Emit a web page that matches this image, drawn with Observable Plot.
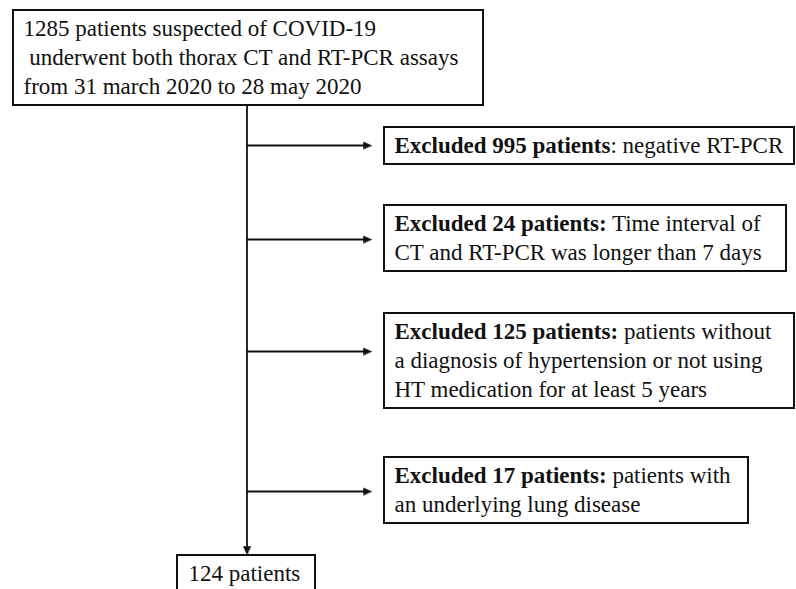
<!DOCTYPE html>
<html>
<head>
<meta charset="utf-8">
<script src="https://cdn.jsdelivr.net/npm/d3@7"></script>
<script src="https://cdn.jsdelivr.net/npm/@observablehq/plot@0.6"></script>
<style>
  html, body { margin: 0; padding: 0; background: #fff; }
  svg text, svg tspan { white-space: pre; }
</style>
</head>
<body>
<div id="chart"></div>
<script>
// ---------- content ----------
const startLines = [
  "1285 patients suspected of COVID-19",
  " underwent both thorax CT and RT-PCR assays",
  "from 31 march 2020 to 28 may 2020"
];
const excludedCounts = [995, 24, 125, 17];
const excludedBold = ["Excluded 995 patients", "Excluded 24 patients:", "Excluded 125 patients:", "Excluded 17 patients:"];
const excludedRest = [
  [": negative RT-PCR"],
  [" Time interval of", "CT and RT-PCR was longer than 7 days"],
  [" patients without", "a diagnosis of hypertension or not using", "HT medication for at least 5 years"],
  [" patients with", "an underlying lung disease"]
];
const finalLines = ["124 patients"];

// ---------- layout (chart units) ----------
const W = 796, H = 589;
const FS = 23, LINE = 29, PADX = 10, PADTOP = 4;
const FONT = "Liberation Serif, Times New Roman, serif";
const startBox = {x1: 13, y1: 10, x2: 483};
const exclBoxes = [
  {x1: 384, y1: 127, x2: 794},
  {x1: 384, y1: 205, x2: 786},
  {x1: 384, y1: 313, x2: 794},
  {x1: 384, y1: 457, x2: 748}
];
const exclArrowY = [145, 239, 351, 491];
const finalBox = {x1: 177, y1: 555, x2: 315};
const spineX = 246.5, arrowTipX = 371, headL = 8, headW = 3.6;

// ---------- derived tables ----------
const boxH = n => n * LINE + 8;
const boxes = [
  {...startBox, y2: startBox.y1 + boxH(startLines.length)},
  ...exclBoxes.map((b, i) => ({...b, y2: b.y1 + boxH(excludedRest[i].length)})),
  {...finalBox, y2: finalBox.y1 + boxH(finalLines.length)}
];

const ctx = document.createElement("canvas").getContext("2d");
ctx.font = `bold ${FS}px "Liberation Serif"`;

const normalText = [], boldText = [];
startLines.forEach((t, i) => normalText.push({x: startBox.x1 + PADX, y: startBox.y1 + PADTOP + LINE * (i + 0.5), text: t}));
finalLines.forEach((t, i) => normalText.push({x: finalBox.x1 + PADX + 1, y: finalBox.y1 + PADTOP + LINE * (i + 0.5), text: t}));
exclBoxes.forEach((b, k) => {
  const bx = b.x1 + PADX, y0 = b.y1 + PADTOP + LINE * 0.5;
  boldText.push({x: bx, y: y0, text: excludedBold[k], n: excludedCounts[k]});
  const bw = ctx.measureText(excludedBold[k]).width;
  excludedRest[k].forEach((t, i) => normalText.push({x: i === 0 ? bx + bw : bx, y: y0 + LINE * i, text: t}));
});

const spineEnd = finalBox.y1 - 1;
const hLines = exclArrowY.map(y => ({y, x1: spineX, x2: arrowTipX - headL + 1}));
const heads = [];
exclArrowY.forEach((y, k) => {
  heads.push({id: k, x: arrowTipX, y}, {id: k, x: arrowTipX - headL, y: y - headW}, {id: k, x: arrowTipX - headL, y: y + headW});
});
heads.push({id: 9, x: spineX, y: spineEnd}, {id: 9, x: spineX - headW, y: spineEnd - headL}, {id: 9, x: spineX + headW, y: spineEnd - headL});

const chart = Plot.plot({
  width: W, height: H, margin: 0,
  x: {domain: [0, W], range: [0, W], axis: null},
  y: {domain: [0, H], range: [0, H], axis: null},
  style: {background: "#fff", fontFamily: FONT, color: "#111"},
  marks: [
    Plot.ruleX([spineX], {x: d => d, y1: startBox.y1 + boxH(startLines.length), y2: spineEnd - headL + 1, stroke: "#111", strokeWidth: 1.8}),
    Plot.ruleY(hLines, {y: "y", x1: "x1", x2: "x2", stroke: "#111", strokeWidth: 1.8}),
    Plot.line(heads, {x: "x", y: "y", z: "id", fill: "#111", stroke: "#111", strokeWidth: 0.5, curve: "linear-closed"}),
    Plot.rect(boxes, {x1: "x1", x2: "x2", y1: "y1", y2: "y2", fill: "#fff", stroke: "#111", strokeWidth: 2}),
    Plot.text(normalText, {x: "x", y: "y", text: "text", textAnchor: "start", lineAnchor: "middle", fontSize: FS, fontFamily: FONT, fill: "#111"}),
    Plot.text(boldText, {x: "x", y: "y", text: "text", textAnchor: "start", lineAnchor: "middle", fontSize: FS, fontFamily: FONT, fontWeight: "bold", fill: "#111"})
  ]
});
document.getElementById("chart").appendChild(chart);
</script>
</body>
</html>
